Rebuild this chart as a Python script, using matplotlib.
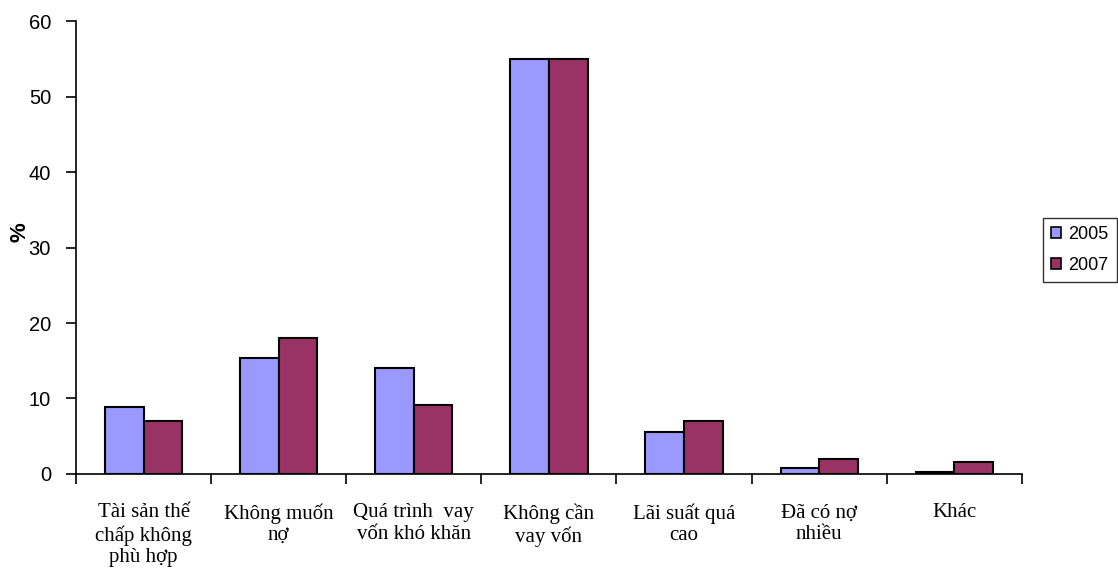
import numpy as np
import matplotlib.pyplot as plt
from matplotlib.patches import Patch

categories = ['Tài sản thế\nchấp không\nphù hợp', 'Không muốn\nnợ', 'Quá trình  vay\nvốn khó khăn',
              'Không cần\nvay vốn', 'Lãi suất quá\ncao', 'Đã có nợ\nnhiều', 'Khác']
vals_2005 = [8.9, 15.4, 14.1, 55.0, 5.5, 0.85, 0.2]
vals_2007 = [7.05, 18.0, 9.1, 55.0, 7.05, 2.0, 1.55]
series_labels = ['2005', '2007']
colors = ['#9999FF', '#993366']

fig = plt.figure(figsize=(11.18, 5.68), dpi=100)
ax = fig.add_axes([0.068, 0.1655, 0.846, 0.7975])

x = np.arange(len(categories))
w = 1 / 3.5
ax.bar(x - w / 2, vals_2005, w, color=colors[0], edgecolor='black', linewidth=1.5, zorder=3)
ax.bar(x + w / 2, vals_2007, w, color=colors[1], edgecolor='black', linewidth=1.5, zorder=3)

ax.set_xlim(-0.5, len(categories) - 0.5)
ax.set_ylim(0, 60)
ax.set_yticks(range(0, 61, 10))
ax.set_yticklabels([str(v) for v in range(0, 61, 10)], fontsize=14.5, family='Liberation Sans')
ax.tick_params(axis='y', length=7, width=1.2, direction='out', pad=11)

# category ticks between groups, labels centred under groups
ax.set_xticks(np.arange(-0.5, len(categories), 1.0))
ax.set_xticklabels([])
ax.tick_params(axis='x', length=7, width=1.2, direction='out')
for i, lab in enumerate(categories):
    ax.text(i, -3.9, lab, ha='center', va='top', fontsize=15, family='Liberation Serif',
            linespacing=1.17)

for s in ['top', 'right']:
    ax.spines[s].set_visible(False)
ax.spines['left'].set_linewidth(1.2)
ax.spines['bottom'].set_linewidth(1.2)

ax.set_ylabel('%', fontsize=16, fontweight='bold', family='Liberation Sans')
ax.yaxis.set_label_coords(-0.048, 0.535)

handles = [Patch(facecolor=c, edgecolor='black', linewidth=1.2) for c in colors]
leg = fig.legend(handles, series_labels, loc='upper left', bbox_to_anchor=(0.933, 0.617),
                 frameon=True, fancybox=False, edgecolor='black',
                 handlelength=0.55, handleheight=0.55, handletextpad=0.4,
                 borderpad=0.45, labelspacing=0.8, borderaxespad=0,
                 prop={'family': 'Liberation Sans', 'size': 13})
leg.get_frame().set_linewidth(1.0)

fig.savefig('out.png', dpi=100)
